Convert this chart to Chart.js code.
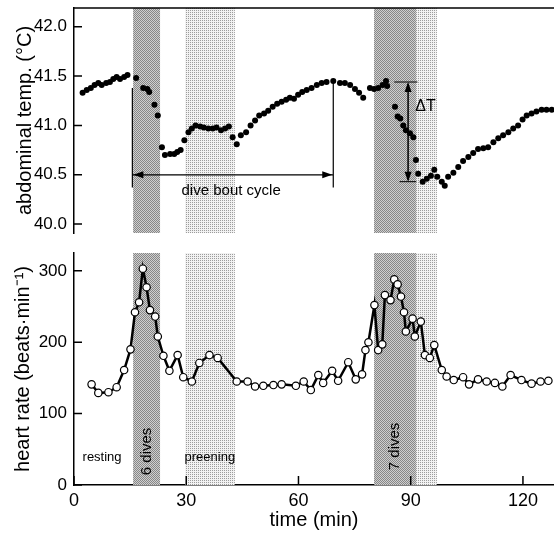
<!DOCTYPE html>
<html><head><meta charset="utf-8">
<script src="https://cdn.jsdelivr.net/npm/chart.js@4"></script>
<style>
html,body{margin:0;padding:0;background:#fff;}
#w{position:relative;width:554px;height:536px;overflow:hidden;}
.c{position:absolute;left:0;width:554px;}
#top{top:0;height:240px;}
#bot{top:240px;height:296px;}
</style></head><body>
<div id="w"><div class="c" id="top"><canvas id="c1"></canvas></div><div class="c" id="bot"><canvas id="c2"></canvas></div></div>
<script>
// ---- data ----
const tempTime=[2.3,3.4,4.5,5.5,6.5,7.4,8.6,9.6,10.5,11.4,12.3,13.4,14.3,16.6,18.5,19.6,20.1,21.5,22.4,23.5,24.3,25.7,26.8,27.6,28.5,29.5,30.6,31.5,32.5,33.7,34.7,35.9,37.1,38.1,39.3,40.4,41.4,42.4,43.5,44.6,46.0,47.2,48.4,49.5,50.8,51.9,53.1,54.3,55.5,56.7,57.7,58.8,59.9,61.0,62.2,63.5,64.9,66.2,67.5,69.3,71.1,72.4,73.8,75.1,76.2,77.3,79.1,80.2,81.3,82.5,83.4,83.7,85.8,86.5,87.2,88.0,88.7,89.8,90.7,91.4,92.0,93.2,94.3,95.4,96.3,97.1,98.3,99.1,100.0,101.4,102.7,104.0,105.4,106.7,108.0,109.4,110.7,112.1,113.4,114.7,116.1,117.4,118.7,119.9,121.0,122.3,123.6,125.0,126.3,127.7];
const tempValue=[41.33,41.36,41.38,41.41,41.43,41.41,41.43,41.44,41.47,41.49,41.47,41.49,41.51,41.48,41.38,41.37,41.34,41.21,41.10,40.78,40.70,40.71,40.71,40.73,40.75,40.85,40.93,40.97,41.00,40.99,40.98,40.97,40.97,40.98,40.95,40.97,40.99,40.88,40.81,40.90,40.93,41.00,41.05,41.10,41.12,41.15,41.19,41.22,41.24,41.26,41.28,41.27,41.31,41.34,41.36,41.38,41.41,41.43,41.44,41.45,41.43,41.43,41.41,41.37,41.33,41.28,41.38,41.37,41.38,41.41,41.45,41.40,41.19,41.09,41.07,41.00,40.95,40.92,40.88,40.65,40.51,40.43,40.46,40.49,40.55,40.48,40.43,40.39,40.48,40.52,40.58,40.64,40.68,40.72,40.76,40.77,40.78,40.83,40.87,40.90,40.93,40.97,41.00,41.06,41.10,41.12,41.14,41.16,41.16,41.16];
const hrTime=[4.7,6.5,9.2,11.4,13.4,15.1,16.3,17.4,18.4,19.4,20.3,21.7,22.4,23.9,25.5,27.7,29.2,31.5,33.5,36.2,38.4,43.5,46.4,48.4,50.6,53.3,55.5,59.3,61.4,63.3,65.3,66.6,69.0,70.6,73.3,75.3,77.0,77.9,78.7,80.3,81.3,82.4,83.1,84.6,85.6,86.5,87.4,88.2,88.7,90.5,91.1,92.7,93.8,95.1,96.3,98.3,99.6,101.5,104.0,105.6,108.0,110.3,112.5,114.5,116.7,119.6,122.3,124.7,126.8];
const hrValue=[141,129,130,137,161,190,242,256,303,277,245,236,208,181,160,182,151,145,171,182,178,145,145,138,139,140,141,139,145,133,154,143,160,146,172,148,155,189,200,252,189,197,266,259,288,281,264,242,215,233,208,229,182,178,196,161,152,147,151,141,148,145,143,138,154,147,142,145,146];
const timeTicks=[0,30,60,90,120];
const tempTicks=[40.0,40.5,41.0,41.5,42.0];
const tempTickLabels=['40.0','40.5','41.0','41.5','42.0'];
const hrTicks=[0,100,200,300];
const hrTickLabels=['0','100','200','300'];
const diveBouts=[[15.8,23.0],[80.2,91.4]];
const otherBouts=[[29.7,43.0],[91.4,97.0]];
// annotation anchors (data units)
const cycleStart=15.6, cycleEnd=69.3, cycleArrowY=40.5;
const deltaX=89.3, deltaTop=41.44, deltaBottom=40.43;

const FONT="'Liberation Sans', Arial, Helvetica, sans-serif";
Chart.defaults.font.family=FONT;
Chart.defaults.color='#000';

function patterns(ctx){
  const mk=(bg,fg,pts)=>{const c=document.createElement('canvas');c.width=c.height=2;const x=c.getContext('2d');x.fillStyle=bg;x.fillRect(0,0,2,2);x.fillStyle=fg;pts.forEach(p=>x.fillRect(p[0],p[1],1,1));return ctx.createPattern(c,'repeat');};
  return {dark:mk('#cfcfcf','#878787',[[0,0],[1,1]]),light:mk('#f2f2f2','#9c9c9c',[[0,0]])};
}
const shadePlugin={id:'shade',beforeDatasetsDraw(chart){
  const {ctx,chartArea:a,scales:{x}}=chart;const p=patterns(ctx);
  ctx.save();
  otherBouts.forEach(b=>{ctx.fillStyle=p.light;const x0=x.getPixelForValue(b[0]),x1=x.getPixelForValue(b[1]);ctx.fillRect(x0,a.top,x1-x0,a.bottom-a.top);});
  diveBouts.forEach(b=>{ctx.fillStyle=p.dark;const x0=x.getPixelForValue(b[0]),x1=x.getPixelForValue(b[1]);ctx.fillRect(x0,a.top,x1-x0,a.bottom-a.top);});
  ctx.restore();
}};
function innerTicks(chart,doX){
  const {ctx,chartArea:a,scales:{x,y}}=chart;
  ctx.save();ctx.strokeStyle='#000';ctx.lineWidth=1.5;ctx.beginPath();
  y.ticks.forEach(t=>{const py=y.getPixelForValue(t.value);ctx.moveTo(a.left,py);ctx.lineTo(a.left+8,py);});
  if(doX){x.ticks.forEach(t=>{const px=x.getPixelForValue(t.value);ctx.moveTo(px,a.bottom);ctx.lineTo(px,a.bottom-9);});}
  ctx.stroke();ctx.restore();
}
function arrowHead(ctx,x,y,dir){
  const L=10,W=3.5;ctx.beginPath();
  if(dir==='l'){ctx.moveTo(x,y);ctx.lineTo(x+L,y-W);ctx.lineTo(x+L,y+W);}
  if(dir==='r'){ctx.moveTo(x,y);ctx.lineTo(x-L,y-W);ctx.lineTo(x-L,y+W);}
  if(dir==='u'){ctx.moveTo(x,y);ctx.lineTo(x-W,y+L);ctx.lineTo(x+W,y+L);}
  if(dir==='d'){ctx.moveTo(x,y);ctx.lineTo(x-W,y-L);ctx.lineTo(x+W,y-L);}
  ctx.closePath();ctx.fill();
}
const topPlugin={id:'topAnn',afterDatasetsDraw(chart){
  const {ctx,chartArea:a,scales:{x,y}}=chart;
  ctx.save();ctx.strokeStyle='#000';ctx.fillStyle='#000';
  ctx.lineWidth=1.5;ctx.beginPath();ctx.moveTo(a.left,a.top);ctx.lineTo(a.right,a.top);ctx.stroke();
  const xs=x.getPixelForValue(cycleStart),xe=x.getPixelForValue(cycleEnd),ya=y.getPixelForValue(cycleArrowY);
  ctx.lineWidth=1.2;ctx.beginPath();
  ctx.moveTo(xs,y.getPixelForValue(41.38));ctx.lineTo(xs,y.getPixelForValue(40.37));
  ctx.moveTo(xe,y.getPixelForValue(41.45));ctx.lineTo(xe,y.getPixelForValue(40.37));
  ctx.moveTo(xs,ya);ctx.lineTo(xe,ya);ctx.stroke();
  arrowHead(ctx,xs+1,ya,'l');arrowHead(ctx,xe-1,ya,'r');
  ctx.font='15px '+FONT;ctx.textAlign='center';ctx.textBaseline='middle';
  ctx.fillText('dive bout cycle',x.getPixelForValue(42.0),y.getPixelForValue(40.34));
  const dx=x.getPixelForValue(deltaX),dt=y.getPixelForValue(deltaTop),db=y.getPixelForValue(deltaBottom);
  ctx.lineWidth=1.5;ctx.beginPath();ctx.moveTo(dx,dt+2);ctx.lineTo(dx,db-2);ctx.stroke();
  ctx.lineWidth=1;ctx.beginPath();
  ctx.moveTo(x.getPixelForValue(85.6),dt);ctx.lineTo(x.getPixelForValue(91.8),dt);
  ctx.moveTo(x.getPixelForValue(87.0),db);ctx.lineTo(x.getPixelForValue(91.5),db);ctx.stroke();
  arrowHead(ctx,dx,dt,'u');arrowHead(ctx,dx,db,'d');
  ctx.font='16px '+FONT;ctx.textAlign='left';
  ctx.fillText('\u0394T',x.getPixelForValue(91.2),y.getPixelForValue(41.19));
  ctx.restore();
},afterDraw(chart){innerTicks(chart,false);}};
const botPlugin={id:'botAnn',afterDatasetsDraw(chart){
  const {ctx,scales:{x,y}}=chart;
  ctx.save();ctx.fillStyle='#000';ctx.font='13px '+FONT;ctx.textAlign='center';ctx.textBaseline='middle';
  ctx.fillText('resting',x.getPixelForValue(7.5),y.getPixelForValue(39));
  ctx.fillText('preening',x.getPixelForValue(36.3),y.getPixelForValue(39));
  ctx.font='15px '+FONT;
  [['6 dives',19.4,47],['7 dives',85.8,54]].forEach(l=>{ctx.save();ctx.translate(x.getPixelForValue(l[1]),y.getPixelForValue(l[2]));ctx.rotate(-Math.PI/2);ctx.fillText(l[0],0,0);ctx.restore();});
  ctx.restore();
},afterDraw(chart){innerTicks(chart,true);}};

const yBase=(ticks,labels,min,max,title,tsize,tpad)=>({
  type:'linear',min:min,max:max,
  grid:{display:false,drawTicks:false},border:{display:true,color:'#000',width:1.5},
  afterBuildTicks:s=>{s.ticks=ticks.map(v=>({value:v}));},
  ticks:{font:{size:17},color:'#000',padding:7,callback:(v)=>{const i=ticks.indexOf(v);return i>=0?labels[i]:'';}},
  title:{display:true,text:title,font:{size:tsize},color:'#000',padding:{top:tpad,bottom:0}},
  afterFit:s=>{s.width=74;s.paddingTop=0;s.paddingBottom=0;s.paddingLeft=0;s.paddingRight=0;}
});

new Chart(document.getElementById('c1'),{
  type:'scatter',
  data:{datasets:[{data:tempTime.map((t,i)=>({x:t,y:tempValue[i]})),pointRadius:3,pointBackgroundColor:'#000',pointBorderColor:'#000',pointBorderWidth:0,showLine:false,clip:false}]},
  options:{responsive:true,maintainAspectRatio:false,animation:false,
    layout:{autoPadding:false,padding:{top:8,bottom:7,left:0,right:0}},
    plugins:{legend:{display:false},tooltip:{enabled:false}},
    scales:{
      x:{type:'linear',min:0,max:128.3,display:false},
      y:yBase(tempTicks,tempTickLabels,39.91,42.19,'abdominal temp. (\u00B0C)',20,13)
    }},
  plugins:[shadePlugin,topPlugin]
});

new Chart(document.getElementById('c2'),{
  type:'scatter',
  data:{datasets:[{data:hrTime.map((t,i)=>({x:t,y:hrValue[i]})),showLine:true,borderColor:'#000',borderWidth:2.5,tension:0,pointRadius:3.7,pointBackgroundColor:'#fff',pointBorderColor:'#000',pointBorderWidth:1.2,clip:false}]},
  options:{responsive:true,maintainAspectRatio:false,animation:false,
    layout:{autoPadding:false,padding:{top:13,bottom:0,left:0,right:0}},
    plugins:{legend:{display:false},tooltip:{enabled:false}},
    scales:{
      x:{type:'linear',min:0,max:128.3,position:'bottom',
        grid:{display:false,drawTicks:false},border:{display:true,color:'#000',width:1.5},
        afterBuildTicks:s=>{s.ticks=timeTicks.map(v=>({value:v}));},
        ticks:{font:{size:18},color:'#000',padding:5,autoSkip:false,maxRotation:0,callback:v=>String(v)},
        title:{display:true,text:'time (min)',font:{size:20},color:'#000',padding:{top:0,bottom:4}},
        afterFit:s=>{s.height=51;s.paddingLeft=0;s.paddingRight=0;s.paddingTop=0;s.paddingBottom=0;}},
      y:yBase(hrTicks,hrTickLabels,0,325,'heart rate (beats\u00B7min\u207B\u00B9)',20,11)
    }},
  plugins:[shadePlugin,botPlugin]
});
</script></body></html>
